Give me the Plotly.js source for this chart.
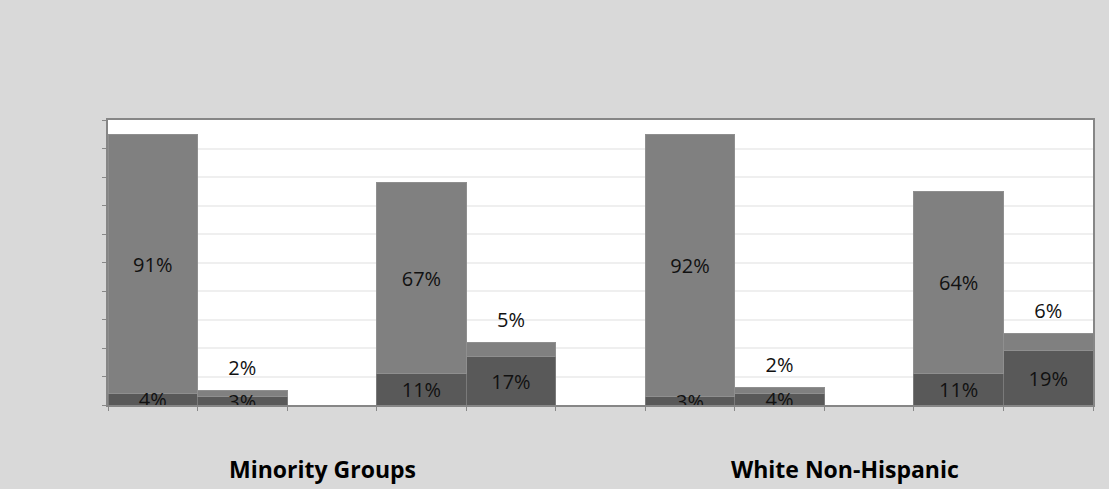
<!DOCTYPE html>
<html><head><meta charset="utf-8">
<script src="https://cdn.plot.ly/plotly-3.0.1.min.js"></script>
<style>html,body{margin:0;padding:0;background:#d9d9d9;}#c{width:1109px;height:489px;}</style>
</head><body><div id="c"></div>
<script>
// Slots: 0-4 Minority Groups, 5 gap, 6-10 White Non-Hispanic (2 and 8 empty)
const slots = [0,1,2,3,4,5,6,7,8,9,10];
const darkValues  = [4, 3, null, 11, 17, null, 3, 4, null, 11, 19];
const lightValues = [91, 2, null, 67, 5, null, 92, 2, null, 64, 6];
const groupLabels = ["Minority Groups", "White Non-Hispanic"];
const groupCenters = [1.89, 7.73];

const fontFam = "Open Sans, Liberation Sans, sans-serif";
const darkX=[],darkY=[],darkT=[],lightX=[],lightY=[],lightT=[];
slots.forEach((s,i)=>{
  if(darkValues[i]==null) return;
  darkX.push(s); darkY.push(darkValues[i]/2 - 1); darkT.push(darkValues[i]+"%");
  const top = darkValues[i]+lightValues[i];
  lightX.push(s);
  lightY.push(lightValues[i] < 10 ? top + 7.3 : darkValues[i] + lightValues[i]/2 - 1);
  lightT.push(lightValues[i]+"%");
});

const traces = [
  {type:'bar', x:slots, y:darkValues, marker:{color:'#595959', line:{color:'#7a7a7a', width:1}}, hoverinfo:'none'},
  {type:'bar', x:slots, y:lightValues, marker:{color:'#808080', line:{color:'#8f8f8f', width:1}}, hoverinfo:'none'},
  {type:'scatter', mode:'text', x:darkX, y:darkY, text:darkT, textfont:{family:fontFam, size:20, color:'#111'}, cliponaxis:true, hoverinfo:'none'},
  {type:'scatter', mode:'text', x:lightX, y:lightY, text:lightT, textfont:{family:fontFam, size:20, color:'#111'}, cliponaxis:true, hoverinfo:'none'}
];

const annotations = groupLabels.map((t,i)=>({
  text:t, x:groupCenters[i], xref:'x', y:-0.225, yref:'paper', showarrow:false,
  font:{family:fontFam, size:23, color:'#000', weight:'bold'}, xanchor:'center', yanchor:'middle'
}));

const layout = {
  width:1109, height:489,
  paper_bgcolor:'#d9d9d9', plot_bgcolor:'#ffffff',
  margin:{l:108, r:16, t:120, b:84},
  barmode:'stack', bargap:0, showlegend:false,
  xaxis:{range:[-0.5,10.5], tickvals:[-0.5,0.5,1.5,2.5,3.5,4.5,5.5,6.5,7.5,8.5,9.5,10.5], showticklabels:false,
    ticks:'outside', ticklen:4, tickcolor:'#888', showgrid:false, zeroline:false,
    showline:true, linecolor:'#868686', linewidth:2, mirror:true},
  yaxis:{range:[0,100], dtick:10, showticklabels:false, ticks:'outside', ticklen:4, tickcolor:'#888',
    showgrid:true, gridcolor:'#efefef', gridwidth:2, zeroline:false,
    showline:true, linecolor:'#868686', linewidth:2, mirror:true},
  annotations:annotations
};
Plotly.newPlot('c', traces, layout, {displayModeBar:false, staticPlot:true});
</script></body></html>
